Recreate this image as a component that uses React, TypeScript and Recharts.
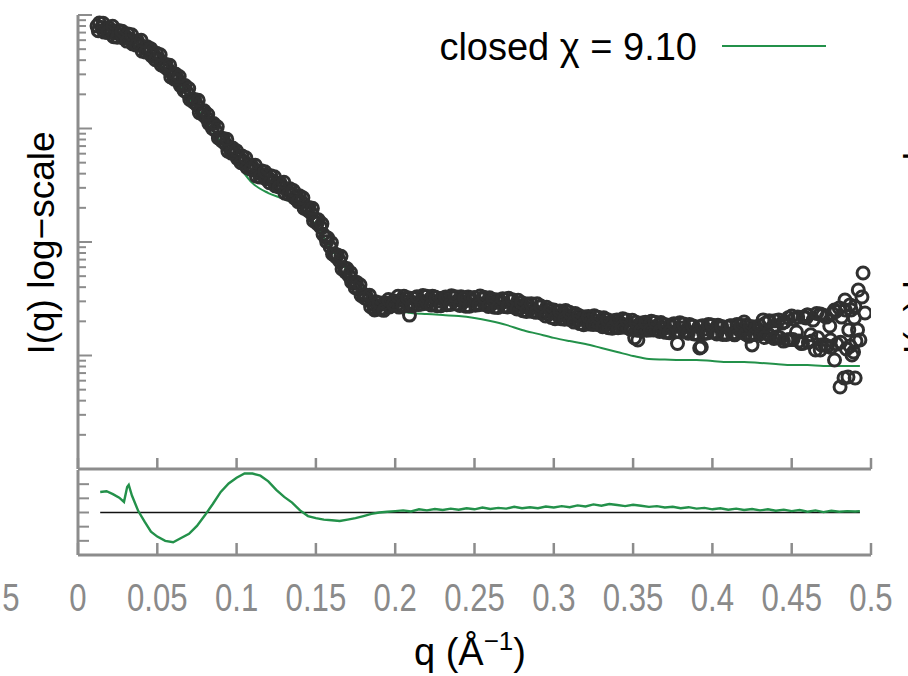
import React from 'react';
import { ComposedChart, Scatter, Line, XAxis, YAxis, ReferenceLine } from 'recharts';

// measured intensities (circles), first pass of samples
const Q_DATA = [
  0.012, 0.015, 0.018, 0.021, 0.024, 0.027, 0.030, 0.033, 0.036, 0.039,
  0.042, 0.045, 0.048, 0.051, 0.054, 0.057, 0.060, 0.063, 0.066, 0.069,
  0.072, 0.075, 0.078, 0.081, 0.084, 0.087, 0.090, 0.093, 0.096, 0.099,
  0.102, 0.105, 0.108, 0.111, 0.114, 0.117, 0.120, 0.123, 0.126, 0.129,
  0.132, 0.135, 0.138, 0.141, 0.144, 0.147, 0.150, 0.153, 0.156, 0.159,
  0.162, 0.165, 0.168, 0.171, 0.174, 0.177, 0.180, 0.183, 0.186, 0.189,
  0.192, 0.195, 0.198, 0.201, 0.204, 0.207, 0.210, 0.213, 0.216, 0.219,
  0.222, 0.225, 0.228, 0.231, 0.234, 0.237, 0.240, 0.243, 0.246, 0.249,
  0.252, 0.255, 0.258, 0.261, 0.264, 0.267, 0.270, 0.273, 0.276, 0.279,
  0.282, 0.285, 0.288, 0.291, 0.294, 0.297, 0.300, 0.303, 0.306, 0.309,
  0.312, 0.315, 0.318, 0.321, 0.324, 0.327, 0.330, 0.333, 0.336, 0.339,
  0.342, 0.345, 0.348, 0.351, 0.354, 0.357, 0.360, 0.363, 0.366, 0.369,
  0.372, 0.375, 0.378, 0.381, 0.384, 0.387, 0.390, 0.393, 0.396, 0.399,
  0.402, 0.405, 0.408, 0.411, 0.414, 0.417, 0.420, 0.423, 0.426, 0.429,
  0.432, 0.435, 0.438, 0.441, 0.444, 0.447, 0.450, 0.453, 0.456, 0.459,
  0.462, 0.465, 0.468, 0.471, 0.474, 0.477, 0.480, 0.483, 0.486, 0.489,
  0.492,
  0.187, 0.209, 0.353, 0.392, 0.425, 0.460, 0.468, 0.4745, 0.477, 0.4805,
  0.4836, 0.4855, 0.4868, 0.488, 0.4895, 0.490, 0.4915, 0.493, 0.4943, 0.495,
  0.4962,
];
const I_DATA = [
  8.00, 7.76, 7.45, 7.23, 6.94, 6.73, 6.47, 6.15, 5.78, 5.44,
  5.12, 4.72, 4.44, 4.10, 3.70, 3.28, 2.96, 2.68, 2.37, 2.06,
  1.82, 1.61, 1.43, 1.24, 1.10, 0.950, 0.825, 0.730, 0.660, 0.596,
  0.550, 0.507, 0.467, 0.431, 0.405, 0.389, 0.366, 0.345, 0.324, 0.305,
  0.287, 0.265, 0.249, 0.225, 0.203, 0.180, 0.159, 0.1355, 0.1107, 0.0903,
  0.0784, 0.0680, 0.0590, 0.0502, 0.0435, 0.0385, 0.0341, 0.0308, 0.0284, 0.0273,
  0.0262, 0.0279, 0.0296, 0.0279, 0.0308, 0.0315, 0.0296, 0.0321, 0.0302, 0.0290,
  0.0315, 0.0328, 0.0302, 0.0308, 0.0284, 0.0321, 0.0308, 0.0296, 0.0328, 0.0302,
  0.0290, 0.0315, 0.0296, 0.0284, 0.0308, 0.0290, 0.0273, 0.0302, 0.0279, 0.0262,
  0.0284, 0.0257, 0.0247, 0.0268, 0.0242, 0.0232, 0.0252, 0.0223, 0.0237, 0.0214,
  0.0227, 0.0206, 0.0218, 0.0197, 0.0210, 0.0189, 0.0201, 0.0186, 0.0197, 0.0178,
  0.0193, 0.0182, 0.0171, 0.0143, 0.0189, 0.0175, 0.0182, 0.0168, 0.0186, 0.0171,
  0.0161, 0.0178, 0.01276, 0.0175, 0.0164, 0.0182, 0.0155, 0.01188, 0.0171, 0.0186,
  0.0161, 0.0175, 0.0158, 0.0182, 0.0152, 0.0168, 0.0197, 0.0148, 0.0178, 0.0164,
  0.0206, 0.0155, 0.0175, 0.0146, 0.0193, 0.0137, 0.0223, 0.0161, 0.01276, 0.0214,
  0.0152, 0.01118, 0.0232, 0.01238, 0.0182, 0.00913, 0.0262, 0.00633, 0.0168, 0.01074,
  0.0378,
  0.0252, 0.0227, 0.0137, 0.01165, 0.0124, 0.0227, 0.01118, 0.0137, 0.0252, 0.00528,
  0.0308, 0.00646, 0.0279, 0.0101, 0.0214, 0.00633, 0.0168, 0.0137, 0.0328, 0.0533,
  0.0237,
];

// second pass of samples
const Q_DATA_B = [
  0.0135, 0.0165, 0.0195, 0.0225, 0.0255, 0.0285, 0.0315, 0.0345, 0.0375, 0.0405,
  0.0435, 0.0465, 0.0495, 0.0525, 0.0555, 0.0585, 0.0615, 0.0645, 0.0675, 0.0705,
  0.0735, 0.0765, 0.0795, 0.0825, 0.0855, 0.0885, 0.0915, 0.0945, 0.0975, 0.1005,
  0.1035, 0.1065, 0.1095, 0.1125, 0.1155, 0.1185, 0.1215, 0.1245, 0.1275, 0.1305,
  0.1335, 0.1365, 0.1395, 0.1425, 0.1455, 0.1485, 0.1515, 0.1545, 0.1575, 0.1605,
  0.1635, 0.1665, 0.1695, 0.1725, 0.1755, 0.1785, 0.1815, 0.1845, 0.1875, 0.1905,
  0.1935, 0.1965, 0.1995, 0.2025, 0.2055, 0.2085, 0.2115, 0.2145, 0.2175, 0.2205,
  0.2235, 0.2265, 0.2295, 0.2325, 0.2355, 0.2385, 0.2415, 0.2445, 0.2475, 0.2505,
  0.2535, 0.2565, 0.2595, 0.2625, 0.2655, 0.2685, 0.2715, 0.2745, 0.2775, 0.2805,
  0.2835, 0.2865, 0.2895, 0.2925, 0.2955, 0.2985, 0.3015, 0.3045, 0.3075, 0.3105,
  0.3135, 0.3165, 0.3195, 0.3225, 0.3255, 0.3285, 0.3315, 0.3345, 0.3375, 0.3405,
  0.3435, 0.3465, 0.3495, 0.3525, 0.3555, 0.3585, 0.3615, 0.3645, 0.3675, 0.3705,
  0.3735, 0.3765, 0.3795, 0.3825, 0.3855, 0.3885, 0.3915, 0.3945, 0.3975, 0.4005,
  0.4035, 0.4065, 0.4095, 0.4125, 0.4155, 0.4185, 0.4215, 0.4245, 0.4275, 0.4305,
  0.4335, 0.4365, 0.4395, 0.4425, 0.4455, 0.4485, 0.4515, 0.4545, 0.4575, 0.4605,
  0.4635, 0.4665, 0.4695, 0.4725, 0.4755, 0.4785, 0.4815, 0.4845, 0.4875, 0.4905,
];
const I_DATA_B = [
  8.51, 7.07, 7.71, 6.44, 7.31, 6.27, 6.81, 5.55, 5.89, 4.80,
  5.26, 4.35, 4.61, 3.63, 3.66, 2.84, 3.02, 2.40, 2.39, 1.80,
  1.80, 1.38, 1.43, 1.11, 1.107, 0.826, 0.817, 0.632, 0.672, 0.544,
  0.571, 0.453, 0.471, 0.380, 0.425, 0.359, 0.384, 0.311, 0.330, 0.269,
  0.295, 0.244, 0.256, 0.199, 0.201, 0.154, 0.157, 0.117, 0.1085, 0.0785,
  0.0769, 0.0578, 0.0584, 0.0445, 0.0443, 0.0338, 0.0341, 0.0269, 0.0298, 0.0255,
  0.0292, 0.0268, 0.0302, 0.0267, 0.0332, 0.0275, 0.0320, 0.0281, 0.0338, 0.0287,
  0.0332, 0.0275, 0.0320, 0.0280, 0.0336, 0.0285, 0.0330, 0.0272, 0.0317, 0.0277,
  0.0334, 0.0281, 0.0323, 0.0266, 0.0308, 0.0270, 0.0319, 0.0268, 0.0307, 0.0248,
  0.0284, 0.0244, 0.0286, 0.0236, 0.0266, 0.0216, 0.0246, 0.0211, 0.0249, 0.0207,
  0.0235, 0.0191, 0.0218, 0.0189, 0.0224, 0.0187, 0.0215, 0.0176, 0.0202, 0.0176,
  0.0211, 0.0177, 0.0204, 0.0167, 0.0193, 0.0167, 0.0200, 0.0169, 0.0195, 0.0160,
  0.0186, 0.0162, 0.0194, 0.0163, 0.0188, 0.0155, 0.0179, 0.0156, 0.0188, 0.0160,
  0.0185, 0.0153, 0.0178, 0.0156, 0.0188, 0.0160, 0.0185, 0.0153, 0.0178, 0.0156,
  0.0193, 0.0148, 0.0202, 0.0143, 0.0198, 0.0138, 0.0210, 0.0134, 0.0218, 0.0131,
  0.0205, 0.0143, 0.0227, 0.0121, 0.0235, 0.0126, 0.0218, 0.0114, 0.0252, 0.0134,
];

// third pass of samples
const Q_DATA_C = [
  0.0128, 0.0158, 0.0188, 0.0218, 0.0248, 0.0278, 0.0308, 0.0338, 0.0368, 0.0398,
  0.0428, 0.0458, 0.0488, 0.0518, 0.0548, 0.0578, 0.0608, 0.0638, 0.0668, 0.0698,
  0.0728, 0.0758, 0.0788, 0.0818, 0.0848, 0.0878, 0.0908, 0.0938, 0.0968, 0.0998,
  0.1028, 0.1058, 0.1088, 0.1118, 0.1148, 0.1178, 0.1208, 0.1238, 0.1268, 0.1298,
  0.1328, 0.1358, 0.1388, 0.1418, 0.1448, 0.1478, 0.1508, 0.1538, 0.1568, 0.1598,
  0.1628, 0.1658, 0.1688, 0.1718, 0.1748, 0.1778, 0.1808, 0.1838, 0.1868, 0.1898,
  0.1928, 0.1958, 0.1988, 0.2018, 0.2048, 0.2078, 0.2108, 0.2138, 0.2168, 0.2198,
  0.2228, 0.2258, 0.2288, 0.2318, 0.2348, 0.2378, 0.2408, 0.2438, 0.2468, 0.2498,
  0.2528, 0.2558, 0.2588, 0.2618, 0.2648, 0.2678, 0.2708, 0.2738, 0.2768, 0.2798,
  0.2828, 0.2858, 0.2888, 0.2918, 0.2948, 0.2978, 0.3008, 0.3038, 0.3068, 0.3098,
  0.3128, 0.3158, 0.3188, 0.3218, 0.3248, 0.3278, 0.3308, 0.3338, 0.3368, 0.3398,
  0.3428, 0.3458, 0.3488, 0.3518, 0.3548, 0.3578, 0.3608, 0.3638, 0.3668, 0.3698,
  0.3728, 0.3758, 0.3788, 0.3818, 0.3848, 0.3878, 0.3908, 0.3938, 0.3968, 0.3998,
  0.4028, 0.4058, 0.4088, 0.4118, 0.4148, 0.4178, 0.4208, 0.4238, 0.4268, 0.4298,
  0.4328, 0.4358, 0.4388, 0.4418, 0.4448, 0.4478, 0.4508, 0.4538, 0.4568, 0.4598,
  0.4628, 0.4658, 0.4688, 0.4718, 0.4748, 0.4778, 0.4808, 0.4838, 0.4868, 0.4898,
];
const I_DATA_C = [
  7.28, 8.46, 7.00, 7.95, 6.38, 7.20, 5.89, 6.70, 5.43, 5.98,
  4.71, 5.05, 4.04, 4.47, 3.48, 3.61, 2.72, 2.87, 2.16, 2.25,
  1.71, 1.77, 1.32, 1.33, 1.00, 1.036, 0.776, 0.803, 0.607, 0.638,
  0.500, 0.553, 0.439, 0.474, 0.373, 0.416, 0.333, 0.376, 0.305, 0.336,
  0.264, 0.284, 0.227, 0.245, 0.191, 0.198, 0.146, 0.145, 0.1007, 0.0984,
  0.0737, 0.0748, 0.0543, 0.0537, 0.0396, 0.0420, 0.0321, 0.0339, 0.0261, 0.0292,
  0.0250, 0.0311, 0.0284, 0.0332, 0.0278, 0.0323, 0.0275, 0.0329, 0.0284, 0.0332,
  0.0278, 0.0323, 0.0275, 0.0328, 0.0282, 0.0330, 0.0276, 0.0320, 0.0272, 0.0325,
  0.0280, 0.0326, 0.0270, 0.0312, 0.0265, 0.0316, 0.0268, 0.0310, 0.0257, 0.0292,
  0.0244, 0.0286, 0.0240, 0.0273, 0.0223, 0.0254, 0.0211, 0.0247, 0.0209, 0.0240,
  0.0197, 0.0225, 0.0187, 0.0221, 0.0188, 0.0217, 0.0179, 0.0207, 0.0174, 0.0206,
  0.0177, 0.0205, 0.0170, 0.0196, 0.0166, 0.0196, 0.0168, 0.0196, 0.0163, 0.0188,
  0.0159, 0.0190, 0.0163, 0.0189, 0.0157, 0.0182, 0.0154, 0.0183, 0.0158, 0.0185,
  0.0155, 0.0180, 0.0153, 0.0183, 0.0158, 0.0185, 0.0155, 0.0180, 0.0153, 0.0183,
  0.0144, 0.0202, 0.0141, 0.0205, 0.0134, 0.0215, 0.0138, 0.0218, 0.0128, 0.0227,
  0.0134, 0.0235, 0.0124, 0.0218, 0.0118, 0.0244, 0.0131, 0.0252, 0.0121, 0.0269,
];

// fitted curve, closed state
const FIT_Q = [
  0.012, 0.02, 0.03, 0.04, 0.05, 0.06, 0.07, 0.08, 0.09, 0.10,
  0.11, 0.12, 0.13, 0.14, 0.15, 0.16, 0.17, 0.18, 0.19, 0.20,
  0.21, 0.22, 0.23, 0.24, 0.25, 0.26, 0.27, 0.28, 0.29, 0.30,
  0.31, 0.32, 0.33, 0.34, 0.35, 0.36, 0.37, 0.38, 0.39, 0.40,
  0.41, 0.42, 0.43, 0.44, 0.45, 0.46, 0.47, 0.48, 0.49, 0.493,
];
const FIT_I = [
  7.38, 6.53, 5.90, 4.92, 3.85, 2.73, 1.86, 1.19, 0.760, 0.497,
  0.330, 0.270, 0.239, 0.203, 0.141, 0.085, 0.0555, 0.0385, 0.0290, 0.0252,
  0.0237, 0.0232, 0.0227, 0.0223, 0.0214, 0.0201, 0.0186, 0.0168, 0.0155, 0.0143,
  0.0134, 0.01263, 0.01165, 0.01074, 0.00990, 0.00931, 0.00922, 0.00913, 0.00913, 0.00894,
  0.00876, 0.00876, 0.00859, 0.00842, 0.00824, 0.00824, 0.00808, 0.00808, 0.00808, 0.00808,
];

// residuals
const RES_Q = [
  0.014, 0.018, 0.022, 0.026, 0.029, 0.031, 0.032, 0.034, 0.038, 0.042,
  0.046, 0.050, 0.055, 0.060, 0.065, 0.070, 0.075, 0.080, 0.085, 0.090,
  0.095, 0.100, 0.105, 0.110, 0.115, 0.120, 0.125, 0.130, 0.135, 0.140,
  0.145, 0.150, 0.155, 0.160, 0.165, 0.170, 0.175, 0.180, 0.185, 0.190,
  0.195, 0.200, 0.205, 0.210, 0.215, 0.220, 0.225, 0.230, 0.235, 0.240,
  0.245, 0.250, 0.255, 0.260, 0.265, 0.270, 0.275, 0.280, 0.285, 0.290,
  0.295, 0.300, 0.305, 0.310, 0.315, 0.320, 0.325, 0.330, 0.335, 0.340,
  0.345, 0.350, 0.355, 0.360, 0.365, 0.370, 0.375, 0.380, 0.385, 0.390,
  0.395, 0.400, 0.405, 0.410, 0.415, 0.420, 0.425, 0.430, 0.435, 0.440,
  0.445, 0.450, 0.455, 0.460, 0.465, 0.470, 0.475, 0.480, 0.485, 0.490,
  0.493,
];
const RES_VAL = [
  2.9, 3.0, 2.6, 2.1, 1.5, 3.6, 3.9, 2.4, 0.2, -1.3,
  -2.7, -3.4, -4.0, -4.2, -3.6, -3.0, -1.9, -0.4, 1.2, 2.9,
  4.1, 4.9, 5.5, 5.5, 5.2, 4.4, 3.2, 2.2, 1.4, 0.3,
  -0.5, -0.8, -1.0, -1.1, -1.2, -1.0, -0.8, -0.5, -0.2, 0.0,
  0.1, 0.2, 0.3, 0.15, 0.45, 0.3, 0.5, 0.35, 0.55, 0.4,
  0.6, 0.45, 0.7, 0.5, 0.65, 0.55, 0.8, 0.6, 0.75, 0.6,
  0.85, 0.7, 0.9, 0.75, 1.0, 0.85, 1.15, 0.95, 1.2, 1.05,
  0.9, 1.1, 0.95, 0.8, 0.9, 0.7, 0.8, 0.6, 0.75, 0.55,
  0.65, 0.45, 0.6, 0.4, 0.55, 0.35, 0.5, 0.3, 0.45, 0.25,
  0.4, 0.2, 0.35, 0.1, 0.3, 0.05, 0.25, 0.1, 0.2, 0.15,
  0.2,
];

const X_TICKS = [0, 0.05, 0.1, 0.15, 0.2, 0.25, 0.3, 0.35, 0.4, 0.45, 0.5];
const X_TICK_LABELS = ['0', '0.05', '0.1', '0.15', '0.2', '0.25', '0.3', '0.35', '0.4', '0.45', '0.5'];
const Y_DECADES = [0.001, 0.01, 0.1, 1, 10];
const Y_MINOR = [
  0.002, 0.003, 0.004, 0.005, 0.006, 0.007, 0.008, 0.009,
  0.02, 0.03, 0.04, 0.05, 0.06, 0.07, 0.08, 0.09,
  0.2, 0.3, 0.4, 0.5, 0.6, 0.7, 0.8, 0.9,
  2, 3, 4, 5, 6, 7, 8, 9,
];
const RES_TICKS = [-4, -2, 0, 2, 4];

const GREEN = '#23914a';
const AXIS_GRAY = '#8c8c8c';
const TICK_GRAY = '#8a8a8a';
const FONT = '"Liberation Sans", Arial, Helvetica, sans-serif';

const W = 908;
const LEFT = 78;
const RIGHT = 37;
const MAIN_H = 480;
const MAIN_BOTTOM = 469;
const RES_TOP_PAGE = 440;
const RES_H = 236;
const RES_BOTTOM_LOCAL = 115;

const scatterData = [
  ...Q_DATA.map((q, i) => ({ q, I: I_DATA[i] })),
  ...Q_DATA_B.map((q, i) => ({ q, I: I_DATA_B[i] })),
  ...Q_DATA_C.map((q, i) => ({ q, I: I_DATA_C[i] })),
];
const fitData = FIT_Q.map((q, i) => ({ q, I: FIT_I[i] }));
const resData = RES_Q.map((q, i) => ({ q, r: RES_VAL[i] }));

const OpenCircle = (props: any) => (
  <circle cx={props.cx} cy={props.cy} r={6} fill="none" stroke="#303030" strokeWidth={3} />
);

const LogTick = (props: any) => {
  const major = Y_DECADES.includes(props.payload.value);
  return (
    <line x1={LEFT} x2={LEFT + (major ? 14 : 8)} y1={props.y} y2={props.y}
      stroke={AXIS_GRAY} strokeWidth={2} />
  );
};

const MainXTick = (props: any) => (
  <line x1={props.x} x2={props.x} y1={MAIN_BOTTOM} y2={MAIN_BOTTOM - 11}
    stroke={AXIS_GRAY} strokeWidth={2.5} />
);

const ResYTick = (props: any) => (
  <line x1={LEFT} x2={LEFT + 11} y1={props.y} y2={props.y} stroke={AXIS_GRAY} strokeWidth={2} />
);

const ResXTick = (props: any) => {
  const label = X_TICK_LABELS[X_TICKS.indexOf(props.payload.value)];
  return (
    <g>
      <line x1={props.x} x2={props.x} y1={RES_BOTTOM_LOCAL} y2={RES_BOTTOM_LOCAL - 12}
        stroke={AXIS_GRAY} strokeWidth={2.5} />
      <g transform={`translate(${props.x},${RES_BOTTOM_LOCAL + 56})`}>
        <text transform="scale(0.82,1)" textAnchor="middle" fontSize={38}
          fontFamily={FONT} fill={TICK_GRAY}>{label}</text>
      </g>
    </g>
  );
};

export default function App() {
  return (
    <div style={{ position: 'absolute', left: 0, top: 0, width: W, height: 676, background: '#fff' }}>
      <div style={{ position: 'absolute', left: 0, top: 0 }}>
        <ComposedChart width={W} height={MAIN_H}
          margin={{ top: 15, right: RIGHT, bottom: 0, left: 0 }}>
          <XAxis dataKey="q" type="number" domain={[0, 0.5]} ticks={X_TICKS} interval={0}
            height={MAIN_H - MAIN_BOTTOM} allowDataOverflow tickLine={false} tick={<MainXTick />}
            axisLine={{ stroke: AXIS_GRAY, strokeWidth: 3 }} />
          <YAxis dataKey="I" type="number" scale="log" domain={[0.001, 10]} allowDataOverflow
            ticks={[...Y_DECADES, ...Y_MINOR]} interval={0} width={LEFT} tickLine={false}
            tick={<LogTick />} axisLine={{ stroke: AXIS_GRAY, strokeWidth: 3 }} />
          <Scatter data={scatterData} dataKey="I" shape={<OpenCircle />} isAnimationActive={false} />
          <Line data={fitData} dataKey="I" type="monotone" stroke={GREEN} strokeWidth={2}
            dot={false} isAnimationActive={false} />
        </ComposedChart>
      </div>
      <div style={{ position: 'absolute', left: 0, top: RES_TOP_PAGE }}>
        <ComposedChart width={W} height={RES_H}
          margin={{ top: 30, right: RIGHT, bottom: 0, left: 0 }}>
          <XAxis dataKey="q" type="number" domain={[0, 0.5]} ticks={X_TICKS} interval={0}
            height={RES_H - RES_BOTTOM_LOCAL} allowDataOverflow tickLine={false} tick={<ResXTick />}
            axisLine={{ stroke: AXIS_GRAY, strokeWidth: 3 }} />
          <YAxis dataKey="r" type="number" domain={[-6, 6]} ticks={RES_TICKS} interval={0}
            width={LEFT} tickLine={false} tick={<ResYTick />}
            axisLine={{ stroke: AXIS_GRAY, strokeWidth: 3 }} />
          <ReferenceLine segment={[{ x: 0.014, y: 0 }, { x: 0.493, y: 0 }]} stroke="#111" strokeWidth={1.6} />
          <Line data={resData} dataKey="r" type="linear" stroke={GREEN} strokeWidth={2.4}
            dot={false} isAnimationActive={false} />
        </ComposedChart>
      </div>
      <svg width={W} height={676} style={{ position: 'absolute', left: 0, top: 0, pointerEvents: 'none' }}
        fontFamily={FONT}>
        <text transform="translate(54,243) rotate(-90)" textAnchor="middle" fontSize={37} fill="#000">
          I(q) log−scale
        </text>
        <text transform="translate(930,243) rotate(-90)" textAnchor="middle" fontSize={37} fill="#000">
          I(q) log−scale
        </text>
        <g transform="translate(-2,611)">
          <text transform="scale(0.82,1)" textAnchor="middle" fontSize={38} fill={TICK_GRAY}>0.5</text>
        </g>
        <text x={697} y={60} textAnchor="end" fontSize={38} fill="#000">closed χ = 9.10</text>
        <line x1={722} x2={826} y1={46} y2={46} stroke={GREEN} strokeWidth={2} />
        <text x={470} y={665} textAnchor="middle" fontSize={38} fill="#000">
          q (Å<tspan dy={-15} fontSize={26}>−1</tspan><tspan dy={15}>)</tspan>
        </text>
      </svg>
    </div>
  );
}
